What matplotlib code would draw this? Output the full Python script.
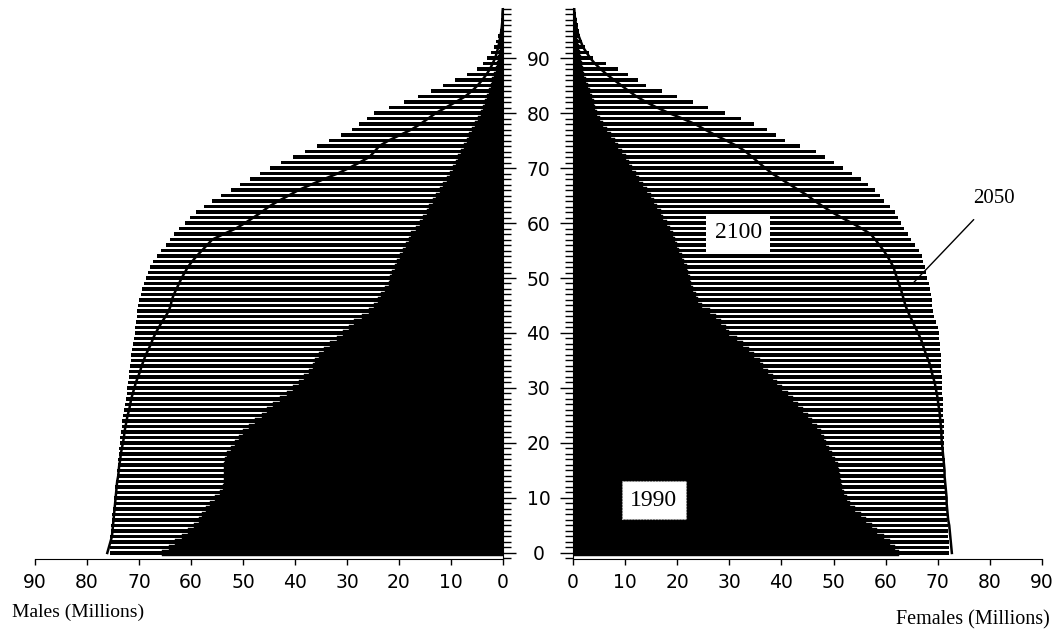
"""Population pyramid: males / females in millions by single year of age, 1990, 2050 and 2100."""

import matplotlib

matplotlib.use("Agg")
import matplotlib.pyplot as plt
import numpy as np
from matplotlib.ticker import MultipleLocator

ages = np.arange(100)

male_2100 = [
    75.6, 75.6, 75.5, 75.5, 75.4, 75.3, 75.2, 75.1, 75.0, 74.9,
    74.8, 74.7, 74.6, 74.5, 74.3, 74.2, 74.1, 74.0, 73.9, 73.8,
    73.7, 73.6, 73.5, 73.3, 73.2, 73.0, 72.8, 72.7, 72.5, 72.4,
    72.3, 72.2, 72.0, 71.9, 71.8, 71.6, 71.5, 71.3, 71.1, 71.0,
    70.8, 70.7, 70.6, 70.4, 70.3, 70.1, 70.0, 69.7, 69.4, 69.0,
    68.6, 68.2, 67.8, 67.3, 66.6, 65.8, 64.9, 64.1, 63.3, 62.3,
    61.2, 60.1, 59.0, 57.5, 56.0, 54.2, 52.4, 50.5, 48.6, 46.8,
    44.8, 42.7, 40.4, 38.0, 35.8, 33.5, 31.2, 29.0, 27.7, 26.2,
    24.8, 22.0, 19.0, 16.4, 13.9, 11.5, 9.2, 7.0, 5.0, 3.8,
    3.0, 2.3, 1.8, 1.3, 0.9, 0.6, 0.4, 0.3, 0.2, 0.1,
]
male_1990 = [
    65.5, 64.3, 63.0, 61.8, 60.5, 59.4, 58.5, 57.8, 57.1, 56.3,
    55.4, 54.5, 53.8, 53.6, 53.6, 53.6, 53.6, 53.4, 53.0, 52.3,
    51.6, 50.8, 50.0, 48.9, 47.7, 46.4, 45.4, 44.3, 42.8, 41.5,
    40.4, 39.2, 38.2, 37.3, 36.6, 36.1, 35.3, 34.4, 33.3, 32.0,
    30.8, 29.7, 28.6, 27.1, 25.8, 24.9, 24.0, 23.4, 22.6, 22.0,
    21.8, 21.4, 20.8, 20.3, 19.8, 19.3, 18.7, 18.1, 17.6, 16.8,
    16.0, 15.3, 14.7, 14.2, 13.5, 12.9, 12.2, 11.5, 10.8, 10.2,
    9.7, 9.1, 8.6, 8.1, 7.5, 7.0, 6.5, 5.9, 5.4, 4.8,
    4.3, 3.9, 3.5, 3.1, 2.7, 2.4, 2.1, 1.8, 1.4, 1.2,
    0.9, 0.8, 0.6, 0.5, 0.4, 0.3, 0.2, 0.2, 0.1, 0.1,
]
male_2050 = [
    76.1, 75.8, 75.5, 75.2, 75.1, 75.0, 74.9, 74.8, 74.7, 74.6,
    74.5, 74.4, 74.3, 74.2, 74.0, 73.9, 73.8, 73.6, 73.5, 73.3,
    73.1, 72.9, 72.8, 72.6, 72.4, 72.2, 71.9, 71.7, 71.5, 71.2,
    70.9, 70.6, 70.2, 69.8, 69.5, 69.1, 68.7, 68.2, 67.7, 67.3,
    66.8, 66.2, 65.6, 64.9, 64.3, 63.9, 63.7, 63.3, 62.8, 62.3,
    61.8, 61.2, 60.6, 59.8, 58.9, 57.9, 56.9, 55.9, 53.7, 51.4,
    49.6, 48.0, 46.4, 45.0, 43.2, 41.2, 39.3, 36.9, 34.4, 31.8,
    29.6, 27.6, 25.7, 24.7, 23.8, 22.0, 19.8, 17.6, 15.9, 14.4,
    12.9, 11.0, 9.1, 7.3, 6.0, 4.9, 4.0, 3.2, 2.5, 2.0,
    1.5, 1.2, 0.9, 0.7, 0.5, 0.3, 0.2, 0.1, 0.1, 0.0,
]

female_2100 = [
    72.2, 72.1, 72.1, 72.0, 72.0, 71.9, 71.8, 71.8, 71.7, 71.7,
    71.6, 71.6, 71.5, 71.5, 71.4, 71.4, 71.3, 71.3, 71.2, 71.2,
    71.2, 71.1, 71.1, 71.1, 71.1, 71.0, 71.0, 71.0, 71.0, 70.9,
    70.9, 70.8, 70.8, 70.7, 70.7, 70.6, 70.6, 70.5, 70.4, 70.3,
    70.2, 70.0, 69.7, 69.3, 69.0, 68.9, 68.8, 68.7, 68.5, 68.3,
    68.0, 67.8, 67.5, 67.2, 66.9, 66.4, 65.6, 64.9, 64.2, 63.5,
    62.9, 62.3, 61.8, 60.8, 59.7, 58.9, 57.9, 56.6, 55.3, 53.6,
    51.8, 50.0, 48.3, 46.6, 43.6, 40.7, 39.0, 37.3, 34.8, 32.3,
    29.2, 25.9, 23.0, 20.0, 17.0, 14.1, 12.5, 10.6, 8.7, 6.3,
    3.9, 3.0, 2.3, 1.8, 1.4, 1.2, 1.0, 0.8, 0.6, 0.4,
]
female_1990 = [
    62.5, 61.8, 60.8, 59.6, 58.4, 57.3, 56.3, 55.2, 54.2, 53.2,
    52.5, 52.0, 51.7, 51.5, 51.3, 51.1, 50.8, 50.3, 49.7, 49.1,
    48.6, 48.1, 47.5, 46.8, 45.9, 45.0, 44.1, 43.2, 42.3, 41.2,
    40.1, 39.2, 38.3, 37.4, 36.5, 35.8, 34.8, 33.8, 32.7, 31.4,
    29.9, 29.3, 28.4, 27.4, 26.3, 24.8, 24.0, 23.6, 23.1, 22.7,
    22.4, 22.1, 21.8, 21.3, 20.9, 20.4, 20.0, 19.6, 19.2, 18.6,
    18.0, 17.3, 16.8, 16.2, 15.6, 15.0, 14.2, 13.5, 12.7, 12.0,
    11.4, 10.8, 10.1, 9.4, 8.7, 8.0, 7.2, 6.5, 5.8, 5.1,
    4.6, 4.3, 4.0, 3.6, 3.2, 2.8, 2.4, 2.1, 1.9, 1.7,
    1.5, 1.3, 1.1, 1.0, 0.8, 0.7, 0.6, 0.5, 0.4, 0.3,
]
female_2050 = [
    72.7, 72.6, 72.5, 72.4, 72.3, 72.2, 72.0, 71.9, 71.8, 71.7,
    71.7, 71.6, 71.5, 71.4, 71.3, 71.3, 71.2, 71.1, 71.0, 70.9,
    70.8, 70.7, 70.7, 70.6, 70.5, 70.4, 70.3, 70.1, 70.0, 69.8,
    69.6, 69.4, 69.1, 68.8, 68.6, 68.2, 67.8, 67.4, 67.1, 66.7,
    66.2, 65.7, 65.2, 64.7, 64.2, 63.8, 63.5, 63.2, 62.9, 62.5,
    62.2, 61.8, 61.5, 60.9, 60.3, 59.6, 58.8, 58.0, 57.1, 55.4,
    53.5, 51.5, 49.6, 48.0, 46.4, 45.0, 43.3, 41.6, 39.9, 38.2,
    36.9, 35.6, 34.4, 33.1, 31.5, 29.4, 27.3, 25.3, 23.4, 21.0,
    18.4, 16.1, 14.0, 12.2, 10.7, 9.3, 7.9, 6.5, 5.3, 4.2,
    3.3, 2.6, 1.9, 1.5, 1.1, 0.8, 0.6, 0.4, 0.3, 0.2,
]

x_ticks = list(range(0, 91, 10))
age_ticks = list(range(0, 91, 10))

TICK_FONT = ["DejaVu Sans"]
LABEL_FONT = ["Liberation Serif"]


def draw_side(ax, v2100, v1990, v2050):
    ax.barh(ages, v2100, height=0.62, color="black", linewidth=0)
    ax.barh(ages, v1990, height=1.0, color="black", edgecolor="black", linewidth=0.3)
    ax.plot(v2050, ages, color="black", lw=1.8, solid_joinstyle="round")
    ax.set_xlim(0, 90)
    ax.set_ylim(-1.1, 99.1)
    ax.set_xticks(x_ticks)
    ax.tick_params(axis="x", direction="out", length=4, width=1, labelsize=13.5, pad=6)
    ax.spines["top"].set_visible(False)
    for label in ax.get_xticklabels():
        label.set_family(TICK_FONT)


fig = plt.figure(figsize=(10.62, 6.37), dpi=100)
ax_m = fig.add_axes([35 / 1062, 78 / 637, 468 / 1062, 551 / 637])
ax_f = fig.add_axes([573 / 1062, 78 / 637, 469 / 1062, 551 / 637])

draw_side(ax_m, male_2100, male_1990, male_2050)
draw_side(ax_f, female_2100, female_1990, female_2050)

ax_m.invert_xaxis()
ax_m.spines["left"].set_visible(False)
ax_m.yaxis.tick_right()
ax_m.set_yticks(age_ticks)
ax_m.yaxis.set_minor_locator(MultipleLocator(1))
ax_m.tick_params(axis="y", which="major", direction="out", length=9.5, width=1, labelsize=13.5, pad=16)
ax_m.tick_params(axis="y", which="minor", direction="out", length=6, width=1)
for label in ax_m.get_yticklabels():
    label.set_horizontalalignment("center")
    label.set_family(TICK_FONT)

ax_f.spines["right"].set_visible(False)
ax_f.set_yticks(age_ticks)
ax_f.yaxis.set_minor_locator(MultipleLocator(1))
ax_f.tick_params(axis="y", which="major", direction="out", length=9.5, width=1, labelleft=False)
ax_f.tick_params(axis="y", which="minor", direction="out", length=6, width=1)

fig.text(12 / 1062, 1 - 612 / 637, "Males (Millions)", family=LABEL_FONT, fontsize=14,
         ha="left", va="center")
fig.text(1050 / 1062, 1 - 620 / 637, "Females (Millions)", family=LABEL_FONT, fontsize=14.5,
         ha="right", va="center")

ax_f.text(31.7, 58.2, "2100", family=LABEL_FONT, fontsize=17, ha="center", va="center",
          bbox=dict(boxstyle="square,pad=0.35", facecolor="white", edgecolor="none"))
ax_f.text(15.5, 9.6, "1990", family=LABEL_FONT, fontsize=17, ha="center", va="center",
          bbox=dict(boxstyle="square,pad=0.35", facecolor="white", edgecolor="#bbbbbb",
                    linestyle=":", linewidth=0.8))
ax_f.annotate("2050", xy=(65.3, 49.1), xytext=(80.8, 64.5), family=LABEL_FONT, fontsize=15,
              ha="center", va="center",
              arrowprops=dict(arrowstyle="-", color="black", lw=1, shrinkA=9, shrinkB=0))

fig.savefig("out.png", dpi=100)
